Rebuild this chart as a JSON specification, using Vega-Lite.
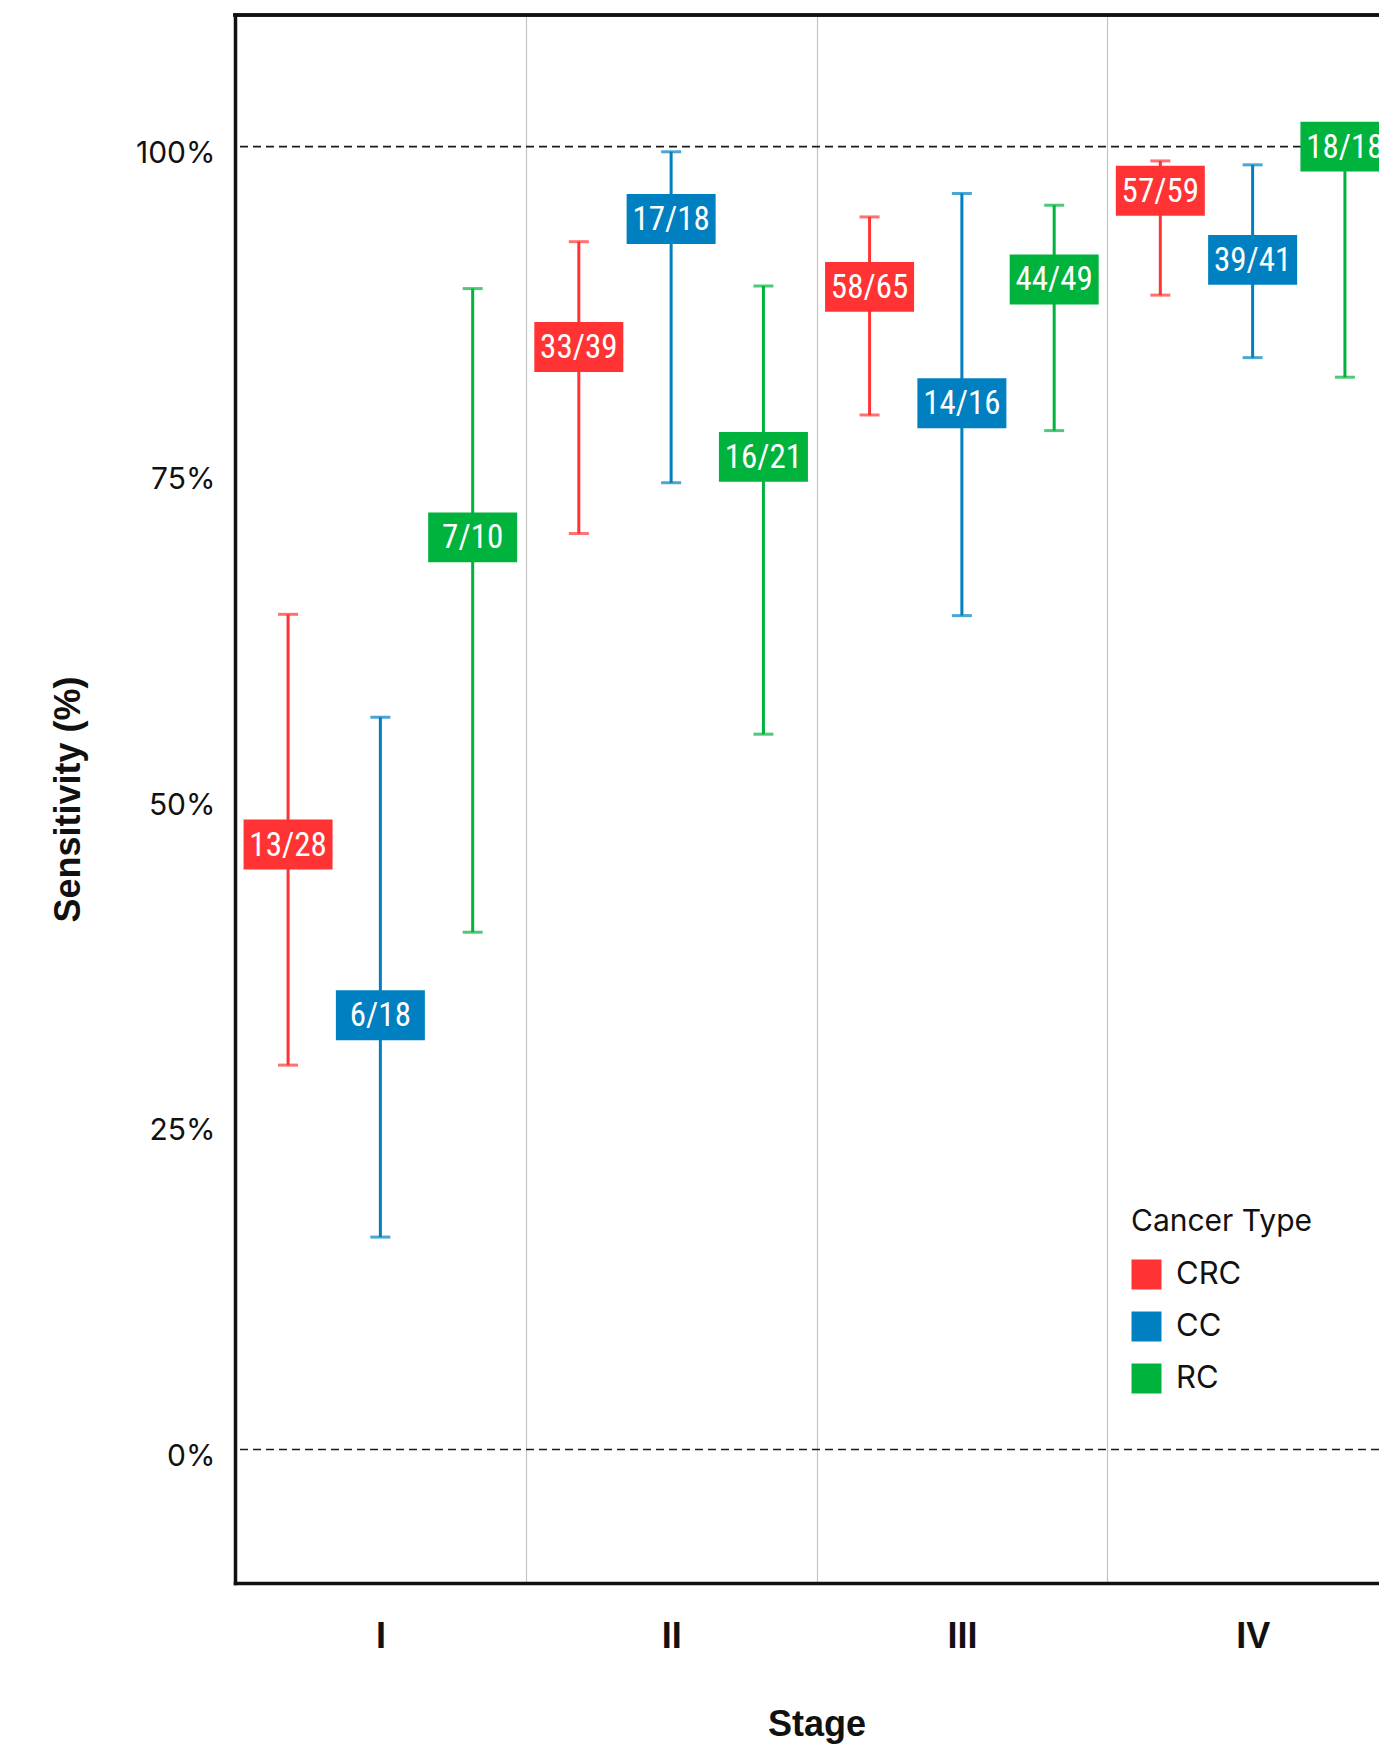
{
  "$schema": "https://vega.github.io/schema/vega-lite/v6.json",
  "autosize": {"type": "none"},
  "padding": {"left": 235, "top": 15, "right": 0, "bottom": 161},
  "width": 1144,
  "height": 1568,
  "background": "white",
  "config": {"view": {"stroke": null}},
  "datasets": {
    "ci": [
      {"stage": "I", "type": "CRC", "label": "13/28", "est": 46.43, "lo": 29.5, "hi": 64.1},
      {"stage": "I", "type": "CC", "label": "6/18", "est": 33.33, "lo": 16.3, "hi": 56.2},
      {"stage": "I", "type": "RC", "label": "7/10", "est": 70.0, "lo": 39.7, "hi": 89.1},
      {"stage": "II", "type": "CRC", "label": "33/39", "est": 84.62, "lo": 70.3, "hi": 92.7},
      {"stage": "II", "type": "CC", "label": "17/18", "est": 94.44, "lo": 74.2, "hi": 99.6},
      {"stage": "II", "type": "RC", "label": "16/21", "est": 76.19, "lo": 54.9, "hi": 89.3},
      {"stage": "III", "type": "CRC", "label": "58/65", "est": 89.23, "lo": 79.4, "hi": 94.6},
      {"stage": "III", "type": "CC", "label": "14/16", "est": 80.3, "lo": 64.0, "hi": 96.4},
      {"stage": "III", "type": "RC", "label": "44/49", "est": 89.8, "lo": 78.2, "hi": 95.5},
      {"stage": "IV", "type": "CRC", "label": "57/59", "est": 96.61, "lo": 88.6, "hi": 98.9},
      {"stage": "IV", "type": "CC", "label": "39/41", "est": 91.3, "lo": 83.8, "hi": 98.6},
      {"stage": "IV", "type": "RC", "label": "18/18", "est": 100.0, "lo": 82.3, "hi": 100.0}
    ],
    "refs": [{"ref": 0}, {"ref": 100}]
  },
  "layer": [
    {
      "data": {"name": "refs"},
      "mark": {"type": "rule", "strokeDash": [8, 5], "strokeWidth": 1.6, "color": "#1a1a1a"},
      "encoding": {
        "y": {
          "field": "ref", "type": "quantitative",
          "scale": {"domain": [-10.25, 110.1], "nice": false, "zero": false},
          "axis": {
            "values": [0, 25, 50, 75, 100],
            "labelExpr": "datum.value + '%'",
            "labelFont": "Inter", "labelFontSize": 30, "labelColor": "#111",
            "labelPadding": 20, "labelOffset": 7,
            "ticks": false, "grid": false,
            "domain": true, "domainColor": "#111", "domainWidth": 3.5, "domainCap": "square",
            "title": "Sensitivity (%)",
            "titleFont": "Liberation Sans", "titleFontWeight": "bold", "titleFontSize": 36, "titleColor": "#111",
            "titlePadding": 48
          }
        }
      }
    },
    {
      "data": {"name": "refs"},
      "mark": {"type": "rule", "strokeWidth": 3.5, "color": "#111", "strokeCap": "square"},
      "encoding": {"y": {"datum": 110.1, "type": "quantitative"}}
    },
    {
      "data": {"name": "ci"},
      "mark": {"type": "rule", "strokeWidth": 3},
      "encoding": {
        "x": {
          "field": "stage", "type": "ordinal", "sort": ["I", "II", "III", "IV"],
          "scale": {"type": "band", "range": [0, 1163], "paddingInner": 0, "paddingOuter": 0},
          "axis": {
            "title": "Stage", "labelAngle": 0,
            "labelFont": "Liberation Sans", "labelFontWeight": "bold", "labelFontSize": 36, "labelColor": "#111",
            "labelPadding": 36, "ticks": false,
            "domain": true, "domainColor": "#111", "domainWidth": 3.5, "domainCap": "square",
            "grid": true, "gridColor": "#c4c4c4", "gridWidth": 1.2, "tickBand": "extent",
            "titleFont": "Liberation Sans", "titleFontWeight": "bold", "titleFontSize": 36, "titleColor": "#111",
            "titlePadding": 53
          }
        },
        "xOffset": {"field": "type", "type": "nominal", "sort": ["CRC", "CC", "RC"], "scale": {"paddingInner": 0, "paddingOuter": 0.075}},
        "y": {"field": "lo", "type": "quantitative"},
        "y2": {"field": "hi"},
        "color": {"field": "type", "type": "nominal", "scale": {"domain": ["CRC", "CC", "RC"], "range": ["#FF3333", "#0080C0", "#00B33C"]}}
      }
    },
    {
      "data": {"name": "ci"},
      "mark": {"type": "tick", "thickness": 3, "size": 20},
      "encoding": {
        "x": {"field": "stage", "type": "ordinal", "sort": ["I", "II", "III", "IV"]},
        "xOffset": {"field": "type", "type": "nominal", "sort": ["CRC", "CC", "RC"]},
        "y": {"field": "lo", "type": "quantitative"},
        "color": {"field": "type", "type": "nominal"}
      }
    },
    {
      "data": {"name": "ci"},
      "mark": {"type": "tick", "thickness": 3, "size": 20},
      "encoding": {
        "x": {"field": "stage", "type": "ordinal", "sort": ["I", "II", "III", "IV"]},
        "xOffset": {"field": "type", "type": "nominal", "sort": ["CRC", "CC", "RC"]},
        "y": {"field": "hi", "type": "quantitative"},
        "color": {"field": "type", "type": "nominal"}
      }
    },
    {
      "data": {"name": "ci"},
      "mark": {"type": "point", "shape": "M-1,-0.56H1V0.56H-1Z", "filled": true, "opacity": 1, "size": 7921, "strokeWidth": 0},
      "encoding": {
        "x": {"field": "stage", "type": "ordinal", "sort": ["I", "II", "III", "IV"]},
        "xOffset": {"field": "type", "type": "nominal", "sort": ["CRC", "CC", "RC"]},
        "y": {"field": "est", "type": "quantitative"},
        "color": {
          "field": "type", "type": "nominal",
          "legend": {
            "title": "Cancer Type", "orient": "none", "legendX": 896, "legendY": 1192,
            "padding": 0, "titleLimit": 500, "labelLimit": 300,
            "symbolType": "square", "symbolSize": 900, "symbolStrokeWidth": 0, "symbolOpacity": 1,
            "titleFont": "Inter", "titleFontSize": 30, "titleFontWeight": "normal", "titleColor": "#111",
            "labelFont": "Inter", "labelFontSize": 31, "labelColor": "#111",
            "rowPadding": 20, "titlePadding": 22, "labelOffset": 14,
            "encode": {"symbols": {"update": {"shape": {"value": "square"}, "size": {"value": 900}, "fill": {"scale": "color", "field": "value"}, "stroke": {"value": "transparent"}, "strokeWidth": {"value": 0}, "opacity": {"value": 1}, "fillOpacity": {"value": 1}}}}
          }
        }
      }
    },
    {
      "data": {"name": "ci"},
      "mark": {"type": "text", "font": "Liberation Sans Narrow, Roboto Condensed, DejaVu Sans Condensed, Roboto", "fontSize": 33, "color": "white", "baseline": "middle", "dy": 1},
      "encoding": {
        "x": {"field": "stage", "type": "ordinal", "sort": ["I", "II", "III", "IV"]},
        "xOffset": {"field": "type", "type": "nominal", "sort": ["CRC", "CC", "RC"]},
        "y": {"field": "est", "type": "quantitative"},
        "text": {"field": "label"}
      }
    }
  ]
}
